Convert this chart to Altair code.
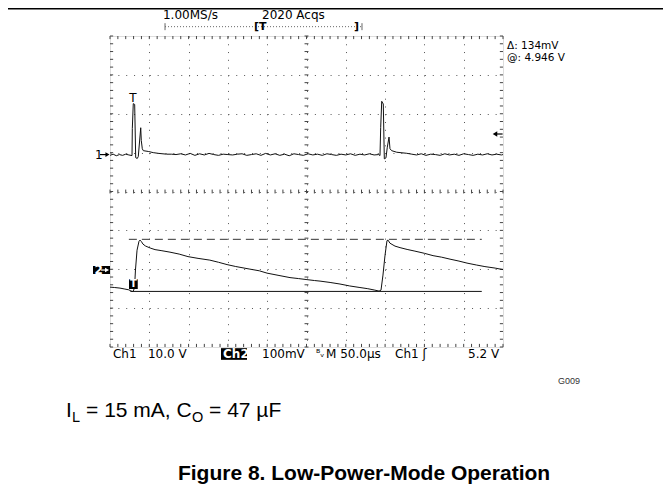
import altair as alt
import pandas as pd

# ---------------- values ----------------
# time base 50 µs/div (10 div = 500 µs), 8 vertical divisions
# Ch1: 10 V/div, volts relative to its ground marker
ch1_time = [0, 4, 8, 12, 16, 20, 24, 28.0, 28.4, 29.6, 31.4, 32.7, 34.7, 36.0, 39.1, 39.8,
            41.1, 42.4, 48.7, 55, 62, 72,
            78, 84, 90, 96, 102, 108, 114, 120, 126, 132, 138, 144, 150, 156, 162, 168,
            174, 180, 186, 192, 198, 204, 210, 216, 222, 228, 234, 240, 246, 252, 258,
            264, 270, 276, 282, 288, 294, 300, 306, 312, 318, 324, 330, 336, 342,
            343.5, 344.4, 345.7, 347.7, 349.0, 351.1, 352.8, 355.0, 356.2, 358.4, 364.8, 377.5,
            384, 390, 396, 402, 408, 414, 420, 426, 432, 438, 444, 450, 456, 462, 468,
            474, 480, 486, 492, 498, 500]
ch1_volt = [-0.2, 0.1, -0.3, 0.0, -0.2, 0.1, -0.1, -0.26, 6.7, 13.1, 12.9, -0.8, -1.0, -0.5, 6.9, 3.6,
            1.5, 1.0, 0.8, 0.5, 0.3, 0.1,
            0.1, 0.0, 0.2, -0.1, 0.3, -0.2, 0.2, -0.1, 0.3, 0.0, -0.2, 0.1, 0.0, -0.1, 0.1, 0.2,
            -0.2, 0.0, 0.2, -0.2, 0.3, -0.1, 0.2, -0.2, 0.1, -0.3, 0.2, 0.0, -0.2, 0.2, -0.1,
            0.1, -0.2, 0.2, 0.0, -0.2, 0.1, -0.1, 0.2, -0.2, 0.1, -0.1, 0.2, -0.1, 0.0,
            -0.26, 7.0, 13.7, 13.0, -1.1, -0.85, 1.9, 4.5, 1.5, 1.0, 0.6, 0.33,
            0.1, -0.1, 0.2, -0.2, 0.1, 0.0, -0.2, 0.2, -0.1, 0.1, -0.2, 0.2, 0.0, -0.2, 0.1,
            -0.1, 0.2, -0.1, 0.1, -0.1, 0.0]
# Ch2: 100 mV/div, millivolts relative to its marker
ch2_time = [0, 6, 12.7, 19, 24, 26.7, 29.3, 31.2, 32.4, 34.4, 36.9, 38.2, 40, 42, 45, 48.3, 52,
            57.3, 65, 76.3, 88, 99.2, 112, 127, 138, 148.9, 160, 178, 190, 199.8, 215, 229,
            240, 250.6, 260, 267.2, 280, 292.6, 305, 318, 328, 337, 342.3, 344.8, 347.3,
            349.9, 352.4, 353.7, 356.2, 362.6, 369, 378, 388, 400, 411, 422, 432.6, 444,
            454.2, 466, 477, 490, 500]
ch2_mv = [-43, -44, -45.5, -48, -50, -53, -54.5, -45, 1, 52, 75, 78, 74, 67.6, 63, 60, 57,
          53.5, 51, 47, 42, 35.5, 31, 26.5, 21, 15, 10, 3.3, -1, -7, -13, -18.5,
          -21, -23.7, -26, -27.5, -31, -35, -40, -44, -47, -50.7, -53.2, -50.7, -12,
          39, 76.6, 78, 70, 62.5, 58.6, 54, 49.6, 44, 38, 34, 29, 24,
          18.8, 14, 9.8, 6, 2]
cursor_mv = [80, -54]            # Δ: 134 mV
cursor_from_us = [24, 26]
cursor_to_us = [473, 473]

ch1_marker_div = 0.95
ch2_marker_div = -2.03
ch1_vdiv = 10.0
ch2_mvdiv = 100.0

# ---------------- scales ----------------
xs = alt.Scale(domain=[0, 500], nice=False, zero=False)
ys = alt.Scale(domain=[-4, 4], nice=False, zero=False)
xaxis = alt.Axis(values=[50, 100, 150, 200, 250, 300, 350, 400, 450], grid=True,
                 gridDash=[1, 6.775], gridColor="#555", labels=False, ticks=False,
                 domain=False, title=None)
yaxis = alt.Axis(values=[-3, -2, -1, 0, 1, 2, 3], grid=True, gridDash=[1, 6.86],
                 gridColor="#555", labels=False, ticks=False, domain=False, title=None)
X = alt.X("t:Q", scale=xs, axis=xaxis)
Y = alt.Y("d:Q", scale=ys, axis=yaxis)
X2 = alt.X2("t2:Q")
Y2 = alt.Y2("d2:Q")

ch1 = pd.DataFrame({"t": ch1_time, "d": [ch1_marker_div + v / ch1_vdiv for v in ch1_volt]})
ch2 = pd.DataFrame({"t": ch2_time, "d": [ch2_marker_div + v / ch2_mvdiv for v in ch2_mv]})
cur = pd.DataFrame({"t": cursor_from_us, "t2": cursor_to_us,
                    "d": [ch2_marker_div + v / ch2_mvdiv for v in cursor_mv],
                    "d2": [ch2_marker_div + v / ch2_mvdiv for v in cursor_mv],
                    "k": ["a", "b"]})

# graticule minor ticks (1/5 division)
xt = [i * 10 for i in range(51)]
yt = [-4 + i * 0.2 for i in range(41)]
ticks = pd.DataFrame(
    [{"t": t, "t2": t, "d": 4, "d2": 3.92} for t in xt]
    + [{"t": t, "t2": t, "d": -4, "d2": -3.92} for t in xt]
    + [{"t": t, "t2": t, "d": 0.05, "d2": -0.05} for t in xt]
    + [{"t": 0, "t2": 4, "d": d, "d2": d} for d in yt]
    + [{"t": 496, "t2": 500, "d": d, "d2": d} for d in yt]
    + [{"t": 247.5, "t2": 252.5, "d": d, "d2": d} for d in yt]
)

tick_layer = alt.Chart(ticks).mark_rule(color="#444", strokeWidth=1).encode(x=X, x2=X2, y=Y, y2=Y2)

ch1_layer = alt.Chart(ch1).mark_line(color="#111", strokeWidth=1).encode(x=X, y=Y)
ch2_layer = alt.Chart(ch2).mark_line(color="#111", strokeWidth=1).encode(x=X, y=Y)
cur_a = alt.Chart(cur[cur.k == "a"]).mark_rule(color="#333", strokeWidth=1,
                                               strokeDash=[8, 5]).encode(x=X, x2=X2, y=Y, y2=Y2)
cur_b = alt.Chart(cur[cur.k == "b"]).mark_rule(color="#111", strokeWidth=1).encode(x=X, x2=X2, y=Y, y2=Y2)

# top rule and acquisition bracket
lines = pd.DataFrame({"t": [-129.8, 70, 70, 320.6], "t2": [703.6, 320.6, 70, 320.6],
                      "d": [4.701, 4.24, 4.33, 4.33], "d2": [4.701, 4.24, 4.15, 4.15],
                      "k": ["top", "br", "e", "e"]})
top_rule = alt.Chart(lines[lines.k == "top"]).mark_rule(color="#000", strokeWidth=1.5).encode(
    x=X, x2=X2, y=Y, y2=Y2)
bracket = alt.Chart(lines[lines.k == "br"]).mark_rule(color="#666", strokeWidth=1,
                                                      strokeDash=[1, 2]).encode(x=X, x2=X2, y=Y, y2=Y2)
bracket_ends = alt.Chart(lines[lines.k == "e"]).mark_rule(color="#666", strokeWidth=1).encode(
    x=X, x2=X2, y=Y, y2=Y2)

# black boxes (Ch2 marker, trigger box, Ch2 label box)
boxes = pd.DataFrame({"t": [-21.6, 24.2, 141.2], "t2": [0, 35.3, 174.3],
                      "d": [-1.916, -2.258, -4.03], "d2": [-2.122, -2.508, -4.33]})
box_layer = alt.Chart(boxes).mark_rect(color="#000").encode(x=X, x2=X2, y=Y, y2=Y2)

# arrow stems
stems = pd.DataFrame({"t": [-12.7, -11.5, 492], "t2": [-3.8, -5.1, 499.5],
                      "d": [0.95, -2.02, 1.479], "d2": [0.95, -2.02, 1.479],
                      "c": ["#000", "#fff", "#000"]})
stem_layer = alt.Chart(stems).mark_rule(strokeWidth=1.2).encode(
    x=X, x2=X2, y=Y, y2=Y2, color=alt.Color("c:N", scale=None))
heads = pd.DataFrame({"t": [-3.2, -3.8], "d": [0.95, -2.02], "c": ["#000", "#fff"]})
head_layer = alt.Chart(heads).mark_point(shape="triangle-right", filled=True, size=22,
                                          opacity=1).encode(x=X, y=Y, color=alt.Color("c:N", scale=None))
trig_arrow = alt.Chart(pd.DataFrame({"t": [489.8], "d": [1.479]})).mark_point(
    shape="triangle-left", filled=True, size=28, color="#000", opacity=1).encode(x=X, y=Y)

# scope texts
scope_txt = pd.DataFrame({
    "t": [67.4, 193.4, -19.1, 3.8, 48.3, 193.4, 274.8, 362.6, 455.5],
    "d": [4.53, 4.53, 0.95, -4.18, -4.18, -4.18, -4.18, -4.18, -4.18],
    "s": ["1.00MS/s", "2020 Acqs", "1", "Ch1", "10.0 V",
          "100mV", "M 50.0µs", "Ch1 ʃ", "5.2 V"],
})
scope_text = alt.Chart(scope_txt).mark_text(align="left", baseline="middle", font="DejaVu Sans",
                                            fontSize=12, color="#000").encode(x=X, y=Y, text="s:N")
cursor_txt = pd.DataFrame({"t": [505.1, 505.1], "d": [3.74, 3.44],
                           "s": ["Δ: 134mV", "@: 4.946 V"]})
cursor_text = alt.Chart(cursor_txt).mark_text(align="left", baseline="middle", font="DejaVu Sans",
                                              fontSize=10.5, color="#000").encode(x=X, y=Y, text="s:N")
bw_text = alt.Chart(pd.DataFrame({"t": [262.1], "d": [-4.18], "s": ["ᴮᵥ"]})).mark_text(
    align="left", baseline="middle", font="DejaVu Sans", fontSize=10, color="#000").encode(
    x=X, y=Y, text="s:N")
brk_txt = pd.DataFrame({"t": [183.2, 310.4], "d": [4.22, 4.22], "s": ["[T", "]"]})
brk_text = alt.Chart(brk_txt).mark_text(align="left", baseline="middle", font="DejaVu Sans",
                                        fontSize=11, fontWeight="bold", color="#000").encode(
    x=X, y=Y, text="s:N")
trig_t = alt.Chart(pd.DataFrame({"t": [29.3], "d": [2.405], "s": ["T"]})).mark_text(
    align="center", baseline="middle", font="DejaVu Sans", fontSize=12, color="#000").encode(
    x=X, y=Y, text="s:N")
white_txt = pd.DataFrame({"t": [-19.7, 29.75, 143.8], "d": [-2.02, -2.383, -4.18],
                          "s": ["2", "T", "Ch2"], "a": ["left", "center", "left"]})
white_text = alt.Chart(white_txt[white_txt.a == "left"]).mark_text(
    align="left", baseline="middle", font="DejaVu Sans", fontSize=12, fontWeight="bold",
    color="#fff").encode(x=X, y=Y, text="s:N")
white_t = alt.Chart(white_txt[white_txt.a == "center"]).mark_text(
    align="center", baseline="middle", font="DejaVu Sans", fontSize=10, fontWeight="bold",
    color="#fff").encode(x=X, y=Y, text="s:N")

# captions below the screenshot
g009 = alt.Chart(pd.DataFrame({"t": [570], "d": [-4.875], "s": ["G009"]})).mark_text(
    align="left", baseline="middle", font="Liberation Sans", fontSize=9, color="#333").encode(
    x=X, y=Y, text="s:N")
cond_main = pd.DataFrame({"t": [-56, -30.5, 126.0], "d": [-5.801] * 3,
                          "s": ["I", "= 15 mA, C", "= 47 µF"]})
cond_sub = pd.DataFrame({"t": [-48.3, 104.3], "d": [-5.93] * 2, "s": ["L", "O"]})
cond_a = alt.Chart(cond_main).mark_text(align="left", baseline="alphabetic", font="Liberation Sans",
                                        fontSize=21, color="#000").encode(x=X, y=Y, text="s:N")
cond_b = alt.Chart(cond_sub).mark_text(align="left", baseline="alphabetic", font="Liberation Sans",
                                       fontSize=14.5, color="#000").encode(x=X, y=Y, text="s:N")
fig_title = alt.Chart(pd.DataFrame({"t": [323.2], "d": [-7.265],
                                    "s": ["Figure 8. Low-Power-Mode Operation"]})).mark_text(
    align="center", baseline="middle", font="Liberation Sans", fontSize=21, fontWeight="bold",
    color="#000").encode(x=X, y=Y, text="s:N")

chart = alt.layer(
    tick_layer, cur_a, cur_b, ch1_layer, ch2_layer, top_rule, bracket, bracket_ends,
    box_layer, stem_layer, head_layer, trig_arrow, scope_text, cursor_text, bw_text, brk_text,
    trig_t, white_text, white_t, g009, cond_a, cond_b, fig_title,
).properties(
    width=393, height=311,
    padding={"left": 102, "top": 28, "right": 160, "bottom": 140},
    autosize=alt.AutoSizeParams(type="none"),
).configure_view(stroke="#111", strokeWidth=1.5).configure(background="white")

chart.save("out.html", embed_options={"renderer": "svg", "actions": False})
